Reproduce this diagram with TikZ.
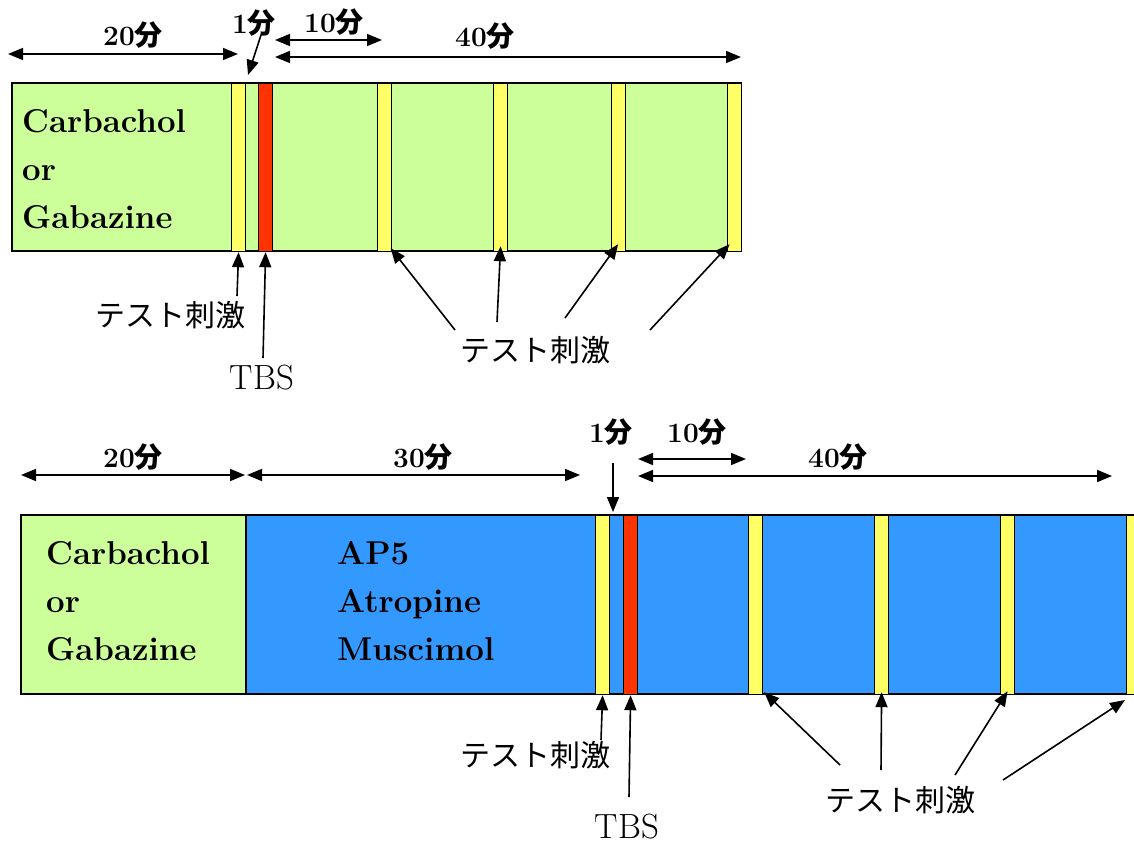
\documentclass[tikz,border=0pt]{standalone}
\usepackage{fontspec}
\newfontfamily\jp{Noto Sans CJK JP}
\usetikzlibrary{arrows.meta}
\definecolor{lgreen}{HTML}{CCFF99}
\definecolor{syellow}{HTML}{FFFF66}
\definecolor{sred}{HTML}{FF3300}
\definecolor{sblue}{HTML}{3399FF}
\tikzset{
  bar/.style={draw=black, line width=1.8pt},
  stripe/.style={draw=black, line width=1.2pt, inner sep=0pt, minimum width=14pt, anchor=north west},
  ystripe/.style={stripe, fill=syellow},
  rstripe/.style={stripe, fill=sred},
  tip/.style={-{Triangle[length=15pt,width=12pt]}, line width=1.6pt},
  dtip/.style={{Triangle[length=15pt,width=12pt]}-{Triangle[length=15pt,width=12pt]}, line width=1.6pt},
  dur/.style={font=\fontsize{28}{30}\selectfont\bfseries, inner sep=0pt},
  drug/.style={font=\fontsize{33}{48}\selectfont\bfseries, align=left, inner sep=0pt, anchor=west},
  jlabel/.style={font=\jp\fontsize{30}{32}\selectfont, inner sep=0pt},
  tbs/.style={font=\fontsize{35}{38}\selectfont, inner sep=0pt},
}
\newcommand{\fen}{{\jp\bfseries 分}}
\begin{document}
\begin{tikzpicture}[x=1pt,y=-1pt]
\clip (0,0) rectangle (1134,846);
\useasboundingbox (0,0) rectangle (1134,846);
\fill[white] (0,0) rectangle (1134,846);

% ===== top diagram =====
\draw[bar, fill=lgreen] (12,83) rectangle (741,251);
\node[ystripe, minimum height=168pt] (ty0) at (231,83) {};
\node[rstripe, minimum height=168pt] (tr) at (258,83) {};
\node[ystripe, minimum height=168pt] (ty1) at (376.5,83) {};
\node[ystripe, minimum height=168pt] (ty2) at (493,83) {};
\node[ystripe, minimum height=168pt] (ty3) at (610.5,83) {};
\node[ystripe, minimum height=168pt] (ty4) at (727,83) {};
\node[drug] (tdrug) at (22,169) {Carbachol\\or\\Gabazine};

% durations
\coordinate (t20a) at (8,54); \coordinate (t20b) at (238,54);
\draw[dtip] (t20a) -- (t20b);
\node[dur] (l20) at (133,35) {20\fen};
\node[dur] (l1) at (254,23) {1\fen};
\coordinate (t1a) at (262,32); \coordinate (t1b) at (248,75);
\draw[tip] (t1a) -- (t1b);
\coordinate (t10a) at (275,40); \coordinate (t10b) at (382,40);
\draw[dtip] (t10a) -- (t10b);
\node[dur] (l10) at (334,22) {10\fen};
\coordinate (t40a) at (275,57); \coordinate (t40b) at (741,57);
\draw[dtip] (t40a) -- (t40b);
\node[dur] (l40) at (485,36) {40\fen};

% stimulus labels
\node[jlabel] (ts1) at (170,315) {テスト刺激};
\coordinate (ts1s) at (237,296);
\draw[tip] (ts1s) -- (ty0.south);
\node[tbs] (ttbs) at (262,378) {TBS};
\coordinate (ttbss) at (263,358);
\draw[tip] (ttbss) -- (tr.south);
\node[jlabel] (ts2) at (535,350) {テスト刺激};
\coordinate (a1) at (455,330); \coordinate (a2) at (497,322);
\coordinate (a3) at (565,318); \coordinate (a4) at (650,330);
\draw[tip] (a1) -- ([xshift=-1pt,yshift=4pt]ty1.south east);
\draw[tip] (a2) -- ([yshift=6pt]ty2.south);
\draw[tip] (a3) -- ([yshift=8pt]ty3.south);
\draw[tip] (a4) -- ([xshift=-5pt,yshift=8pt]ty4.south);

% ===== bottom diagram =====
\draw[bar, fill=sblue] (246,515) rectangle (1150,694);
\draw[bar, fill=lgreen] (21,515) rectangle (246,694);
\node[ystripe, minimum height=179pt] (by0) at (595,515) {};
\node[rstripe, minimum height=179pt] (br) at (623,515) {};
\node[ystripe, minimum height=179pt] (by1) at (748,515) {};
\node[ystripe, minimum height=179pt] (by2) at (874,515) {};
\node[ystripe, minimum height=179pt] (by3) at (1000,515) {};
\node[ystripe, minimum height=179pt] (by4) at (1126,515) {};
\node[drug] (bdrug1) at (46,601) {Carbachol\\or\\Gabazine};
\node[drug] (bdrug2) at (337,601) {AP5\\Atropine\\Muscimol};

\coordinate (b20a) at (21,475); \coordinate (b20b) at (245,475);
\draw[dtip] (b20a) -- (b20b);
\node[dur] (m20) at (133,457) {20\fen};
\coordinate (b30a) at (247,475); \coordinate (b30b) at (580,475);
\draw[dtip] (b30a) -- (b30b);
\node[dur] (m30) at (423,457) {30\fen};
\node[dur] (m1) at (611,432) {1\fen};
\coordinate (b1a) at (613,463); \coordinate (b1b) at (613,512);
\draw[tip] (b1a) -- (b1b);
\coordinate (b10a) at (638,459); \coordinate (b10b) at (746,459);
\draw[dtip] (b10a) -- (b10b);
\node[dur] (m10) at (697,432) {10\fen};
\coordinate (b40a) at (638,476); \coordinate (b40b) at (1112,476);
\draw[dtip] (b40a) -- (b40b);
\node[dur] (m40) at (838,457) {40\fen};

\node[jlabel] (bs1) at (535,755) {テスト刺激};
\coordinate (bs1s) at (601,740);
\draw[tip] (bs1s) -- (by0.south);
\node[tbs] (btbs) at (627,827) {TBS};
\coordinate (btbss) at (629,797);
\draw[tip] (btbss) -- (br.south);
\node[jlabel] (bs2) at (900,800) {テスト刺激};
\coordinate (c1) at (840,765); \coordinate (c2) at (881,770);
\coordinate (c3) at (955,775); \coordinate (c4) at (1003,780);
\draw[tip] (c1) -- ([xshift=1pt,yshift=3pt]by1.south east);
\draw[tip] (c2) -- ([yshift=3pt]by2.south);
\draw[tip] (c3) -- ([yshift=4pt]by3.south);
\draw[tip] (c4) -- (1125,700);
\end{tikzpicture}
\end{document}
